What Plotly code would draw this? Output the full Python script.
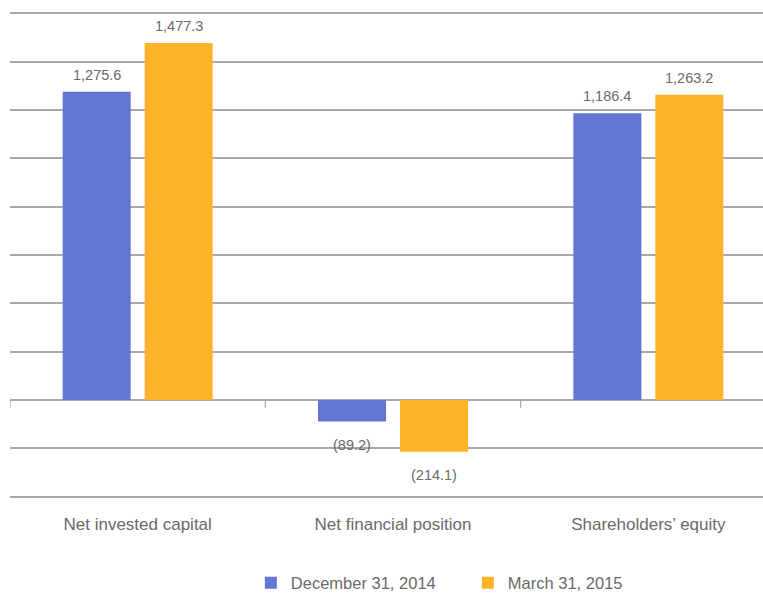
import plotly.graph_objects as go

# Balance sheet highlights (EUR millions)
categories = ["Net invested capital", "Net financial position", "Shareholders\u2019 equity"]
series_names = ["December 31, 2014", "March 31, 2015"]
dec_2014 = [1275.6, -89.2, 1186.4]
mar_2015 = [1477.3, -214.1, 1263.2]

colors = ["#6476D3", "#FDB42B"]
text_color = "#6a6a6a"
grid_color = "#a8a8a8"
font_family = "Liberation Sans, Arial, sans-serif"

BARGAP = 0.358
BARGROUPGAP = 0.17


def fmt(v):
    s = f"{abs(v):,.1f}"
    return f"({s})" if v < 0 else s


fig = go.Figure()
for name, vals, col in zip(series_names, [dec_2014, mar_2015], colors):
    fig.add_trace(go.Bar(
        name=name,
        x=categories,
        y=vals,
        marker=dict(color=col, line=dict(width=0)),
        hoverinfo="skip",
    ))

# value labels: above positive bars, below negative ones
offset = (1 - BARGAP) / 4
annotations = []
for k, vals in enumerate([dec_2014, mar_2015]):
    sign = -1 if k == 0 else 1
    for i, v in enumerate(vals):
        annotations.append(dict(
            x=i + sign * offset, y=v, xref="x", yref="y",
            text=fmt(v), showarrow=False,
            yshift=17 if v >= 0 else -23,
            font=dict(size=14.5, color=text_color, family=font_family),
        ))

# small tick marks on the zero line at category boundaries
shapes = []
for b in [-0.5, 0.5, 1.5]:
    shapes.append(dict(type="line", xref="x", yref="y", x0=b, x1=b, y0=0, y1=-32,
                       line=dict(color=grid_color, width=1.2)))

fig.update_layout(
    width=763, height=597,
    margin=dict(l=10, r=0, t=11, b=98, autoexpand=False),
    paper_bgcolor="white", plot_bgcolor="white",
    barmode="group", bargap=BARGAP, bargroupgap=BARGROUPGAP,
    font=dict(family=font_family, color=text_color),
    showlegend=True,
    legend=dict(orientation="h", x=0.608, xanchor="center", y=-0.172, yanchor="middle",
                font=dict(size=16.5, color=text_color), itemwidth=30, entrywidth=172,
                traceorder="normal"),
    annotations=annotations,
    shapes=shapes,
)
fig.update_xaxes(
    range=[-0.5, 2.449], showgrid=False, showline=False, zeroline=False,
    ticks="outside", ticklen=10, tickcolor="rgba(0,0,0,0)",
    tickfont=dict(size=17, color=text_color, family=font_family),
    fixedrange=True,
)
fig.update_yaxes(
    range=[-410, 1610], dtick=200, showgrid=True, gridcolor=grid_color, gridwidth=1.5,
    zeroline=True, zerolinecolor=grid_color, zerolinewidth=1.5,
    showticklabels=False, showline=False, fixedrange=True,
)

fig.write_html("out.html")
